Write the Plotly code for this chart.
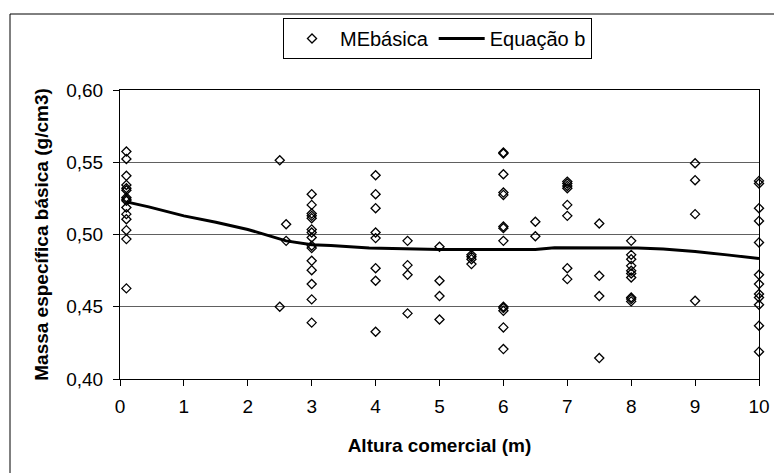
import plotly.graph_objects as go

# Scatter data: MEbásica (x = Altura comercial, y = massa específica básica)
x_010 = [0.1] * 15
y_010 = [0.5574, 0.5523, 0.5406, 0.5343, 0.5320, 0.5306, 0.5256, 0.5244, 0.5233,
         0.5187, 0.5141, 0.5106, 0.5030, 0.4968, 0.4627]
x_25 = [2.5, 2.5, 2.6, 2.6]
y_25 = [0.5514, 0.4500, 0.5071, 0.4956]
x_3 = [3.0] * 15
y_3 = [0.5279, 0.5205, 0.5145, 0.5129, 0.5113, 0.5035, 0.5014, 0.4979, 0.4922,
       0.4906, 0.4818, 0.4753, 0.4657, 0.4551, 0.4390]
x_4 = [4.0] * 8 + [4.5] * 4
y_4 = [0.5410, 0.5279, 0.5182, 0.5014, 0.4975, 0.4767, 0.4680, 0.4327,
       0.4956, 0.4788, 0.4721, 0.4454]
x_5 = [5.0] * 4 + [5.5] * 4
y_5 = [0.4915, 0.4680, 0.4574, 0.4412, 0.4859, 0.4846, 0.4829, 0.4795]
x_6 = [6.0] * 13 + [6.5] * 2
y_6 = [0.5567, 0.5560, 0.5417, 0.5290, 0.5274, 0.5055, 0.5044, 0.4956, 0.4500,
       0.4491, 0.4472, 0.4357, 0.4207, 0.5088, 0.4988]
x_7 = [7.0] * 8 + [7.5] * 4
y_7 = [0.5366, 0.5353, 0.5336, 0.5320, 0.5205, 0.5129, 0.4767, 0.4691,
       0.5076, 0.4714, 0.4574, 0.4145]
x_8 = [8.0] * 10
y_8 = [0.4956, 0.4859, 0.4829, 0.4783, 0.4749, 0.4730, 0.4703, 0.4564, 0.4553, 0.4537]
x_9 = [9.0] * 4
y_9 = [0.5493, 0.5376, 0.5141, 0.4541]
x_10 = [10.0] * 12
y_10 = [0.5371, 0.5353, 0.5182, 0.5094, 0.4945, 0.4721, 0.4657, 0.4588, 0.4564,
        0.4514, 0.4369, 0.4189]

me_x = x_010 + x_25 + x_3 + x_4 + x_5 + x_6 + x_7 + x_8 + x_9 + x_10
me_y = y_010 + y_25 + y_3 + y_4 + y_5 + y_6 + y_7 + y_8 + y_9 + y_10

# Fitted curve: Equação b
eq_x = [0.1, 0.45, 1.0, 1.5, 2.0, 2.6, 3.0, 3.3, 3.9, 4.5, 5.0, 5.5, 6.0, 6.5,
        6.8, 7.5, 8.1, 8.5, 9.0, 9.5, 10.0]
eq_y = [0.5226, 0.5191, 0.5129, 0.5085, 0.5035, 0.4956, 0.4929, 0.4924, 0.4906,
        0.4900, 0.4896, 0.4896, 0.4896, 0.4896, 0.4908, 0.4908, 0.4906, 0.4899,
        0.4882, 0.4859, 0.4833]

x_ticks = list(range(0, 11))
y_ticks = [0.40, 0.45, 0.50, 0.55, 0.60]

FONT = "Liberation Sans, Arial, sans-serif"

fig = go.Figure()
fig.add_trace(go.Scatter(
    x=me_x, y=me_y, mode="markers", name="MEbásica",
    marker=dict(symbol="diamond-open", size=7, color="black", line=dict(width=1.3, color="black")),
    cliponaxis=False,
))
fig.add_trace(go.Scatter(
    x=eq_x, y=eq_y, mode="lines", name="Equação b",
    line=dict(color="black", width=3),
))

W, H = 774, 473
L, R, T, B = 120, 15, 90, 94
pw, ph = W - L - R, H - T - B

def px_to_paper_x(px):
    return (px - L) / pw

def px_to_paper_y(py):
    return (H - B - py) / ph

fig.update_layout(
    width=W, height=H,
    margin=dict(l=L, r=R, t=T, b=B, pad=0, autoexpand=False),
    paper_bgcolor="white", plot_bgcolor="white",
    separators=",.",
    font=dict(family=FONT, size=19, color="black"),
    showlegend=True,
    legend=dict(
        orientation="h", x=px_to_paper_x(437.5), xanchor="center",
        y=px_to_paper_y(18), yanchor="top",
        bordercolor="black", borderwidth=1, bgcolor="white",
        font=dict(family=FONT, size=20, color="black"),
        itemwidth=46,
    ),
    xaxis=dict(
        range=[0, 10], tickvals=x_ticks, ticktext=[str(v) for v in x_ticks],
        ticks="outside", ticklen=6, tickcolor="black", tickwidth=1,
        ticklabelstandoff=4, automargin=False,
        showline=True, linecolor="black", linewidth=1, mirror=True,
        showgrid=False, zeroline=False,
        tickfont=dict(size=19),
        title=dict(text="<b>Altura comercial (m)</b>", font=dict(size=19), standoff=22),
    ),
    yaxis=dict(
        range=[0.40, 0.60], tickvals=y_ticks, tickformat=".2f",
        ticks="outside", ticklen=6, tickcolor="black", tickwidth=1,
        ticklabelstandoff=6, automargin=False,
        showline=True, linecolor="black", linewidth=1, mirror=True,
        showgrid=True, gridcolor="#606060", gridwidth=1, zeroline=False,
        tickfont=dict(size=19),
        title=dict(text="<b>Massa específica básica (g/cm3)</b>", font=dict(size=19), standoff=12),
    ),
    shapes=[
        dict(type="line", xref="paper", yref="paper",
             x0=px_to_paper_x(10), x1=px_to_paper_x(800),
             y0=px_to_paper_y(14), y1=px_to_paper_y(14),
             line=dict(color="black", width=1)),
        dict(type="line", xref="paper", yref="paper",
             x0=px_to_paper_x(10), x1=px_to_paper_x(10),
             y0=px_to_paper_y(14), y1=px_to_paper_y(500),
             line=dict(color="black", width=1)),
    ],
)

fig.write_html(
    "out.html",
    config={"displayModeBar": False},
    post_script="document.body.style.margin='0';document.body.style.overflow='hidden';",
)
